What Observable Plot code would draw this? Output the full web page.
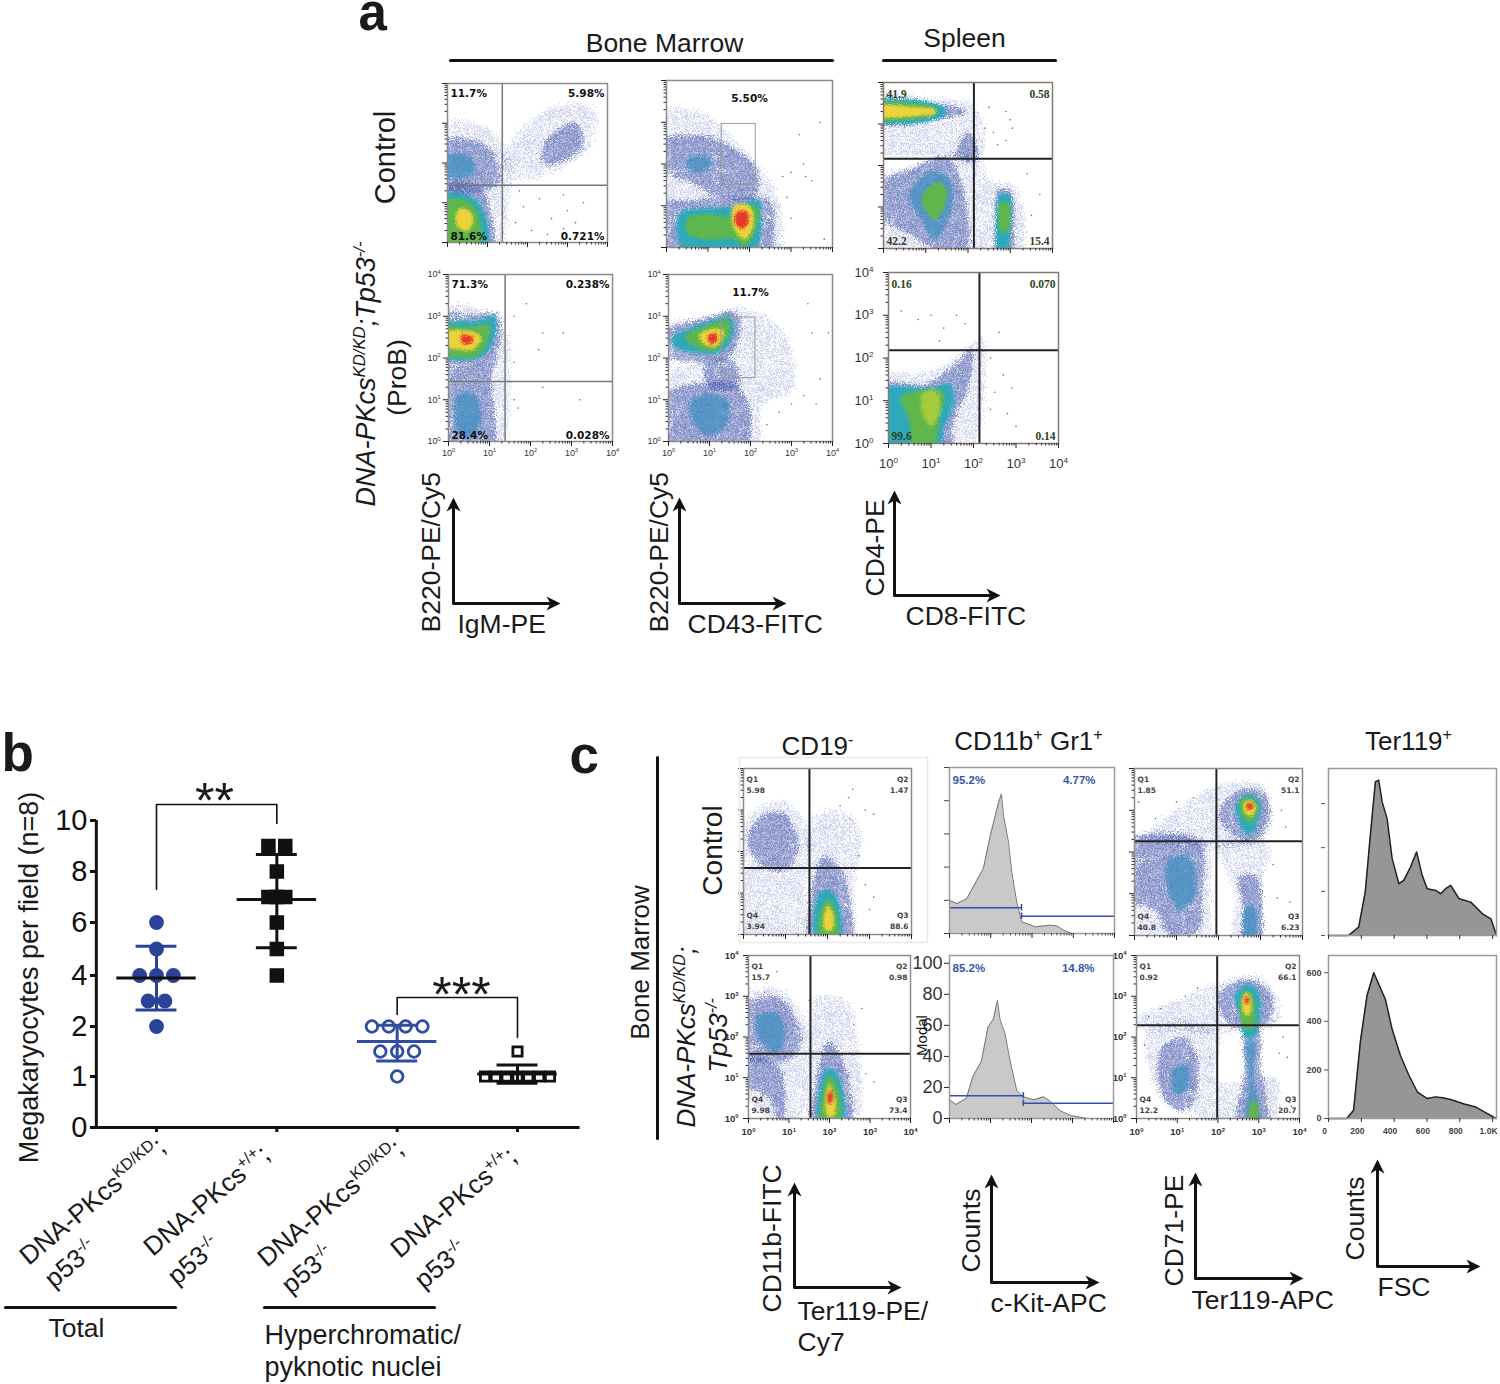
<!DOCTYPE html>
<html><head><meta charset="utf-8">
<style>html,body{margin:0;background:#fff}#page{position:relative;width:1500px;height:1384px;overflow:hidden;font-family:"Liberation Sans",Arial,sans-serif}</style>
<script src="https://cdn.jsdelivr.net/npm/d3@7"></script>
<script src="https://cdn.jsdelivr.net/npm/@observablehq/plot@0.6"></script>
</head><body><div id="page"></div>
<script>
// ---------- panel b values ----------
const bCategories = ["Total KD", "Total WT", "Hyperchromatic KD", "Hyperchromatic WT"];
const bYTicks = [0, 1, 2, 4, 6, 8, 10];
const totalKD = [[0,6],[0,5],[-.14,4],[0,4],[.14,4],[-.07,3],[.07,3],[0,2]];
const totalWT = [[-.07,9],[.07,9],[0,8],[-.07,7],[0,7],[.07,7],[0,6],[0,5],[0,4]];
const hyperKD = [[-.21,2],[-.07,2],[.07,2],[.21,2],[-.14,1.5],[0,1.5],[.14,1.5],[0,1]];
const hyperWT = [[-.27,1],[-.18,1],[-.09,1],[0,1],[.09,1],[.18,1],[.27,1],[0,1.5]];
const bMeans = [3.9, 6.9, 1.7, 1.05];
const bUpper = [5.1, 8.67, 2.05, 1.23];
const bLower = [2.65, 5.05, 1.31, 0.87];

// ---------- histogram values (log decades or FSC, percent or counts) ----------
const kitControl = [[0,20],[.18,18],[.42,21],[.66,32],[.82,39],[.99,59],[1.11,71],[1.19,79],[1.26,84],[1.31,71],[1.43,55],[1.51,37],[1.63,19],[1.75,7],[1.92,5.6],[2.08,4],[2.44,5],[2.6,4.6],[2.76,2],[2.97,0],[4,0]];
const kitMutant = [[0,12],[.16,9],[.41,13],[.57,27],[.78,37],[.94,59],[1.07,64],[1.17,76],[1.23,64],[1.35,55],[1.48,37],[1.64,18],[1.8,14],[2.05,12],[2.3,14],[2.46,11],[2.7,5],[2.95,2],[3.36,0],[4,0]];
const fscControl = [[0,0],[122,0],[184,5],[224,26],[255,60],[286,92],[306,93],[327,80],[357,70],[388,46],[429,31],[459,33],[500,41],[537,50],[571,36],[602,28],[653,27],[684,25],[714,28],[745,30],[796,22],[867,20],[939,13],[990,10],[1024,0]];
const fscMutant = [[0,0],[112,0],[153,34],[194,315],[235,507],[276,600],[306,553],[347,490],[388,367],[439,258],[490,178],[541,110],[602,82],[653,89],[694,85],[745,78],[827,60],[898,47],[969,20],[1020,0]];

// ---------- density outlines, in log10 decades ----------
const igmControl = [
 ["s",[[0,2.9],[.7,3],[1.3,2.6],[1.6,1.8],[1.5,.8],[1.3,0],[0,0]]],
 ["s",[[1.4,2.2],[2,3],[3,3.5],[3.7,3.3],[3.6,2.5],[2.9,1.9],[2,1.6],[1.5,1.7]]],
 ["d",[[0,2.5],[.6,2.6],[1.2,2.2],[1.3,1.5],[.9,1.3],[0,1.3]]],
 ["d",[[0,1.4],[.8,1.4],[1.1,.7],[1.1,0],[0,0]]],
 ["d",[[2.4,2.5],[3.2,3],[3.4,2.5],[3,2.1],[2.4,2]]],
 ["m",[[0,2.1],[.5,2.2],[.7,1.8],[.3,1.6],[0,1.7]]],
 ["t",[[0,1.15],[.6,1.15],[.95,.7],[.95,0],[0,0]]],
 ["g",[[0,1],[.5,1.05],[.8,.6],[.75,0],[0,0]]],
 ["y",[[.3,.85],[.55,.8],[.65,.55],[.5,.3],[.3,.35],[.2,.6]]]];
const cd43Control = [
 ["s",[[0,3.2],[.9,3.2],[1.6,2.6],[2.5,1.6],[2.8,.5],[2.6,0],[0,0]]],
 ["d",[[0,2.5],[.8,2.7],[1.6,2.4],[2.2,1.8],[2.1,1.2],[1.3,1.2],[.5,1.6],[0,1.9]]],
 ["d",[[0,1],[.7,1.15],[1.6,1.2],[2.5,1.1],[2.6,.4],[2.4,0],[0,0]]],
 ["t",[[.3,.8],[1,.95],[1.7,1],[2.2,1.15],[2.3,.6],[2,0],[.5,0]]],
 ["m",[[.5,2.1],[.9,2.2],[1.1,2],[.8,1.8],[.5,1.9]]],
 ["g",[[.5,.7],[1,.8],[1.6,.75],[1.8,1],[2.2,.95],[2.15,.4],[1.9,.05],[1.6,.2],[.9,.2],[.5,.35]]],
 ["y",[[1.6,.98],[2,1],[2.1,.6],[1.9,.2],[1.65,.4]]],
 ["r",[[1.7,.85],[1.95,.85],[1.95,.55],[1.8,.45],[1.65,.6]]]];
const cd8Control = [
 ["s",[[0,3.7],[1,3.6],[2.2,3.4],[2.3,2.2],[1.5,2.2],[0,2.4]]],
 ["s",[[0,1.6],[.7,2],[1.7,2.3],[2.2,2.2],[2.6,1.6],[3.1,1.5],[3.2,0],[.5,0],[0,.5]]],
 ["d",[[0,3.55],[1.2,3.5],[2,3.3],[1.5,3.15],[0,3]]],
 ["d",[[1.7,2.2],[2,2.8],[2.2,2.5],[2.2,2.1]]],
 ["d",[[0,1.5],[.6,1.9],[1.5,2.2],[1.9,1.4],[1.9,0],[.7,.3],[0,.9]]],
 ["d",[[2.7,1.4],[3,1.4],[3.1,.6],[3,0],[2.7,0],[2.65,.7]]],
 ["t",[[0,3.52],[1.3,3.48],[1.5,3.3],[1.3,3.12],[0,3.08]]],
 ["m",[[.6,1.3],[1.2,1.9],[1.6,1.6],[1.6,.9],[1.2,.2],[.9,.7]]],
 ["t",[[2.75,1.3],[2.98,1.3],[3,.4],[2.9,0],[2.75,0]]],
 ["g",[[0,3.45],[1.1,3.44],[1.3,3.3],[1.1,3.18],[0,3.15]]],
 ["g",[[.9,1.2],[1.3,1.6],[1.5,1.4],[1.4,.9],[1.2,.7]]],
 ["g",[[2.77,1.1],[2.95,1.1],[2.95,.4],[2.78,.4]]],
 ["y",[[0,3.4],[.9,3.4],[1.22,3.36],[1.22,3.24],[.9,3.2],[0,3.2]]]];
const igmMutant = [
 ["s",[[0,3.15],[.8,3.15],[1.4,2.6],[1.5,1.6],[1.2,0],[0,0]]],
 ["d",[[0,3],[.6,3.05],[1.2,3.05],[1.25,2.3],[1.05,1.6],[1.05,0],[0,0]]],
 ["t",[[0,2.8],[.7,2.9],[1.15,3],[1,2.2],[.6,1.95],[0,2.1]]],
 ["m",[[.2,1.1],[.6,1.15],[.8,.6],[.6,.1],[.25,.2]]],
 ["g",[[0,2.7],[.6,2.75],[1,2.8],[.85,2.2],[.5,2],[0,2.2]]],
 ["y",[[0,2.58],[.5,2.65],[.8,2.5],[.6,2.2],[.3,2.2],[0,2.35]]],
 ["r",[[.3,2.55],[.6,2.5],[.55,2.35],[.35,2.35]]]];
const cd43Mutant = [
 ["s",[[0,2.7],[1,3],[1.7,3.2],[2.5,2.9],[3,2.2],[3,1.2],[2.3,.9],[2.1,0],[0,0],[0,1.6],[.7,1.9]]],
 ["d",[[0,2.55],[.9,2.95],[1.65,3.1],[1.75,2.6],[1.45,2],[1,1.9],[0,2.1]]],
 ["d",[[.9,1.9],[1.6,1.9],[1.7,1.3],[1,1.3]]],
 ["d",[[0,1],[.8,1.4],[1.6,1.4],[2,.7],[1.8,0],[0,0]]],
 ["t",[[.1,2.5],[.9,2.85],[1.5,3],[1.6,2.6],[1.3,2.15],[.8,2.1],[.1,2.3]]],
 ["m",[[.5,.9],[1,1.15],[1.5,.9],[1.3,.25],[.8,.2]]],
 ["g",[[.4,2.5],[1,2.8],[1.45,2.9],[1.5,2.6],[1.2,2.2],[.8,2.2]]],
 ["y",[[.75,2.55],[1.1,2.7],[1.35,2.65],[1.2,2.3],[.9,2.3]]],
 ["r",[[.95,2.5],[1.15,2.6],[1.2,2.45],[1.05,2.33]]]];
const cd8Mutant = [
 ["s",[[0,1.5],[1,1.7],[1.7,2.1],[2.2,2.5],[2.3,1.6],[1.8,0],[0,0]]],
 ["d",[[0,1.35],[.9,1.4],[1.5,1.8],[1.95,2.2],[1.9,1.4],[1.5,.4],[1.5,0],[0,0]]],
 ["t",[[0,1.25],[1,1.3],[1.45,1.4],[1.55,1],[1.3,.3],[1.2,0],[.4,0],[0,.1]]],
 ["g",[[.3,1.1],[1.05,1.25],[1.3,1.2],[1.2,.6],[1,0],[.6,0],[.5,.5]]],
 ["l",[[.8,1.2],[1.15,1.2],[1.2,.7],[1,.4],[.8,.7]]]];
const ter119Control = [
 ["s",[[0,2.4],[.5,3.1],[1,3.2],[1.5,2.6],[1.5,1.2],[1.3,0],[0,0]]],
 ["s",[[1.6,2.8],[2.5,2.9],[2.8,2.3],[2.6,1],[2.6,0],[1.55,0],[1.6,1]]],
 ["d",[[.1,2.3],[.5,2.9],[1,2.9],[1.3,2.2],[1.1,1.6],[.5,1.6]]],
 ["d",[[1.6,1],[1.7,1.4],[1.9,1.9],[2.3,1.6],[2.55,.8],[2.5,0],[1.6,0]]],
 ["t",[[1.7,.7],[1.85,1.05],[2.1,1.05],[2.3,.7],[2.25,0],[1.75,0]]],
 ["g",[[1.8,.4],[2,.85],[2.2,.55],[2.2,0],[1.85,0]]],
 ["y",[[1.9,.3],[2,.7],[2.15,.45],[2.1,.1],[1.95,.1]]]];
const ter119Mutant = [
 ["s",[[0,.9],[0,2.9],[.7,3.2],[1.3,2.6],[1.6,1.7],[1.5,.6],[1,0]]],
 ["s",[[1.6,2.9],[2.4,2.9],[2.7,1.8],[2.6,0],[1.55,0],[1.6,1.5]]],
 ["d",[[0,2.7],[.7,3],[1.2,2.4],[1.3,1.8],[.9,1.4],[0,1.6]]],
 ["d",[[0,1.5],[.7,1.3],[.9,.8],[.8,0],[.5,.5],[0,.9]]],
 ["d",[[1.7,1.1],[1.95,1.9],[2.2,1.7],[2.55,.6],[2.45,0],[1.6,0],[1.6,.6]]],
 ["m",[[.2,2.5],[.7,2.6],[.9,2.1],[.7,1.6],[.3,1.9]]],
 ["t",[[1.75,.75],[1.9,1.2],[2.1,1.2],[2.35,.7],[2.3,0],[1.75,0]]],
 ["g",[[1.8,.5],[2,1.05],[2.25,.6],[2.2,0],[1.85,0]]],
 ["y",[[1.9,.4],[2,.85],[2.15,.4],[2.1,.05],[1.95,.05]]],
 ["r",[[1.95,.55],[2.05,.7],[2.08,.45],[1.98,.35]]]];
const cd71Control = [
 ["s",[[.2,2.3],[1,3],[2,3.6],[3,3.6],[3.3,2.9],[3,2.25]]],
 ["s",[[0,2.25],[1.7,2.3],[1.8,1.2],[1.65,0],[.7,0],[0,.6]]],
 ["s",[[2,2.2],[3.2,2.2],[3,1.2],[3,0],[2.4,0],[2.4,1]]],
 ["d",[[2,2.9],[2.5,3.5],[3.1,3.4],[3.2,2.8],[2.9,2.3],[2.5,2.3]]],
 ["d",[[0,2.2],[1.55,2.25],[1.6,1],[1.5,.1],[.8,.05],[.5,.6],[0,.9]]],
 ["d",[[2.5,1.4],[2.9,1.4],[3.05,.4],[2.95,0],[2.55,0],[2.6,.6]]],
 ["t",[[2.4,3.1],[2.7,3.4],[3,3.2],[2.9,2.6],[2.7,2.4],[2.5,2.7]]],
 ["m",[[.8,1.8],[1.3,1.9],[1.45,1],[1.1,.6],[.8,1.1]]],
 ["m",[[2.65,.7],[2.85,.7],[2.85,0],[2.65,0]]],
 ["g",[[2.5,3.2],[2.75,3.3],[2.95,3.1],[2.8,2.7],[2.6,2.8]]],
 ["y",[[2.6,3.15],[2.75,3.25],[2.9,3.05],[2.75,2.85],[2.62,2.95]]],
 ["r",[[2.68,3.15],[2.8,3.17],[2.82,3.05],[2.7,3]]]];
const cd71Mutant = [
 ["s",[[0,2.3],[1,2.9],[2,3.3],[3,3.5],[3.5,2.8],[3.4,2.3]]],
 ["s",[[.3,2.2],[2,2.2],[2,.9],[3.4,1],[3.5,.3],[3.3,0],[1.4,.1],[.6,.5]]],
 ["d",[[2,3],[2.6,3.4],[3.2,3.2],[3.35,2.6],[3,2.2],[2.3,2.3]]],
 ["d",[[2.65,2.2],[3,2.2],[3.05,1.2],[3.2,.5],[3.2,0],[2.5,0],[2.65,1.2]]],
 ["d",[[.6,1.7],[1.2,2],[1.5,1.4],[1.4,.4],[1,.2],[.6,.7]]],
 ["m",[[.9,1.2],[1.25,1.3],[1.25,.7],[.95,.6]]],
 ["t",[[2.4,3],[2.7,3.3],[3,3.1],[2.9,2],[2.65,2],[2.55,2.5]]],
 ["m",[[2.7,1.9],[2.9,1.9],[2.88,.9],[3,.5],[3,0],[2.7,0],[2.75,.9]]],
 ["g",[[2.55,2.95],[2.7,3.15],[2.88,2.95],[2.85,2.2],[2.65,2.2]]],
 ["g",[[2.8,.4],[2.95,.4],[2.95,0],[2.8,0]]],
 ["y",[[2.6,2.95],[2.7,3.1],[2.8,2.95],[2.78,2.55],[2.65,2.55]]],
 ["r",[[2.65,2.95],[2.72,3],[2.77,2.9],[2.7,2.8]]]];

// ---------- isolated events ----------
const igmControlOut = [[1.9,.9],[2.3,1.1],[2.6,.6],[2.9,1.2],[3.2,.5],[3.4,1],[1.7,.5],[2.1,.3],[2.5,.2],[3.0,.8],[1.8,1.3],[2.9,.35]];
const cd43ControlOut = [[3,1.8],[3.3,2],[3.5,1.6],[3.8,.2],[3.7,3],[3.2,2.7],[2.9,1.2],[3,.7],[2.8,1.7],[3.35,1.7]];
const cd8ControlOut = [[2.5,3.4],[2.9,3.3],[3,3.1],[2.6,2.8],[2.7,2.5],[2.4,2.9],[3.05,2.9],[2.9,2.6],[3.4,1.8],[3.5,.8],[3.7,1.3]];
const igmMutantOut = [[1.6,3],[1.9,3.3],[2.3,2.6],[2.8,2.6],[2.2,2.2],[1.6,1.9],[2.3,1.3],[1.6,1],[3.2,1],[1.7,.8]];
const cd43MutantOut = [[3.4,3.3],[3.5,2.6],[3.7,1.5],[3.3,1.1],[3.6,.9],[2.7,.7],[3,.9],[2.4,.4],[3.9,2.6]];
const cd8MutantOut = [[.3,3.1],[.7,2.9],[1,3],[1.3,2.7],[1.6,3],[1.8,2.8],[1.2,2.4],[2.4,2],[2.7,1.6],[2.5,1.2],[2.9,1.3],[2.8,.7],[3,.4],[2.4,.8],[2.6,2.6]];
const ter119ControlOut = [[2.5,3.3],[2.6,3.5],[2.9,3],[3.1,2.9],[2.3,3.1],[3.1,.9],[3,.6],[2.75,1.9],[2.9,1.2]];
const ter119MutantOut = [[.7,3.6],[1.5,2.9],[2.8,2.7],[2.6,2.3],[3.1,.9],[2.9,1.1],[2.8,1.6],[.4,3.1]];
const cd71ControlOut = [[.3,1.8],[.5,2.8],[1,3.2],[1.4,3.3],[3.5,3],[3.6,2.6],[3.3,1.7],[3.4,.9],[3.7,.8],[.1,3.2]];
const cd71MutantOut = [[.3,2.5],[.6,2.7],[1.2,3],[1.5,3.2],[.2,1.8],[3.6,2],[3.7,1.5],[3.8,.3],[3.5,1.6],[1.8,1.5]];

// ---------- texts ----------
const pctLabels = {
 igmControl:["11.7%","5.98%","81.6%","0.721%"], igmMutant:["71.3%","0.238%","28.4%","0.028%"],
 cd8Control:["41.9","0.58","42.2","15.4"], cd8Mutant:["0.16","0.070","99.6","0.14"],
 ter119Control:["Q1\n5.98","Q2\n1.47","Q4\n3.94","Q3\n88.6"], ter119Mutant:["Q1\n15.7","Q2\n0.98","Q4\n9.98","Q3\n73.4"],
 cd71Control:["Q1\n1.85","Q2\n51.1","Q4\n40.8","Q3\n6.23"], cd71Mutant:["Q1\n0.92","Q2\n66.1","Q4\n12.2","Q3\n20.7"]};
const decadeTicks = [0,1,2,3,4];
const percentTicks = [0,20,40,60,80,100];
const fscTicks = [0,200,400,600,800,1000];
const fscCountTicks = [0,200,400,600];

// ---------- layout and styling ----------
const SANS = '"Liberation Sans",Arial,sans-serif';
const page = document.getElementById("page");
const none = () => "";
const minorTicks = d3.range(0,4).flatMap(d => d3.range(2,10).map(k => d + Math.log10(k)));
// speckle texture and grainy edges for the flow plots (a fill style, not data)
const defs = document.createElementNS("http://www.w3.org/2000/svg","svg");
defs.setAttribute("width",0);defs.setAttribute("height",0);defs.style.position="absolute";
function tile(id,n,color,size){
  let s=`<pattern id="${id}" patternUnits="userSpaceOnUse" width="47" height="47">`;
  for(let i=0;i<n;i++) s+=`<rect x="${((i*0.7549)%1*47).toFixed(1)}" y="${((i*0.5698)%1*47).toFixed(1)}" width="${size}" height="${size}" fill="${color}"/>`;
  defs.innerHTML+=s+"</pattern>";
}
function grain(id,scale,blur){
  defs.innerHTML+=`<filter id="${id}" x="-25%" y="-25%" width="150%" height="150%" color-interpolation-filters="sRGB">
   <feGaussianBlur in="SourceGraphic" stdDeviation="${blur}" result="b"/>
   <feTurbulence type="fractalNoise" baseFrequency="0.85" numOctaves="2" seed="4" result="n"/>
   <feDisplacementMap in="b" in2="n" scale="${scale}" xChannelSelector="R" yChannelSelector="G"/></filter>`;
}
tile("spS",300,"#4658b4",1); tile("spD",820,"#2f43a0",1.1);
grain("gS",16,0); grain("gD",14,0); grain("gC",11,.9); grain("gH",7,.8);
page.appendChild(defs);
const levelFill = {s:"url(#spS)",d:"url(#spD)",m:"#3f8fc0",t:"#2ea9bc",g:"#5fb74c",l:"#a6cb3e",y:"#ecd33a",r:"#e6382a"};
const levelFilter = {s:"url(#gS)",d:"url(#gD)",m:"url(#gC)",t:"url(#gC)",g:"url(#gC)",l:"url(#gC)",y:"url(#gH)",r:"url(#gH)"};
const levelOpacity = {m:.75};

function add(svg,left,top){
  svg.style.position="absolute"; svg.style.left=left+"px"; svg.style.top=top+"px";
  svg.style.overflow="visible"; svg.style.maxWidth="none"; svg.style.background="transparent"; svg.style.fontFamily=SANS;
  page.appendChild(svg);
}
function cloudMarks(layers,out){
  const ext = ([x,y]) => [x<=0?-.3:x, y<=0?-.3:y];
  return [
    ...layers.map(([lvl,pts]) => Plot.line(pts.map(ext),{x:d=>d[0],y:d=>d[1],fill:levelFill[lvl],fillOpacity:levelOpacity[lvl]||1,stroke:"none",curve:"catmull-rom-closed",clip:"frame",imageFilter:levelFilter[lvl]})),
    Plot.dot(out,{x:d=>d[0],y:d=>d[1],r:.8,fill:"#5a69bd",stroke:"none"})
  ];
}
function decadeAxes(p){
  const lab = p.tick, fmt=d=>`10^{${d}}`;
  return [
    Plot.axisX({ticks:minorTicks,tickSize:2.5,tickFormat:none,stroke:"#333",label:null}),
    Plot.axisY({ticks:minorTicks,tickSize:2.5,tickFormat:none,stroke:"#333",label:null}),
    Plot.axisX({ticks:decadeTicks,tickSize:5,tickFormat:lab?fmt:none,stroke:"#222",fill:"#333",label:null,...(lab||{})}),
    Plot.axisY({ticks:decadeTicks,tickSize:5,tickFormat:lab?fmt:none,stroke:"#222",fill:"#333",label:null,...(lab||{})})];
}
function flowPanel(p){
  const [x0,x1,y0,y1]=p.box, L=45,R=14,T=4,B=34;
  const lab=p.labels||[], st=p.labelStyle||{};
  const corner=[["top-left",st.dx,st.dy],["top-right",-st.dx,st.dy],["bottom-left",st.dx,-st.dy],["bottom-right",-st.dx,-st.dy]];
  add(Plot.plot({width:x1-x0+L+R,height:y1-y0+T+B,marginLeft:L,marginRight:R,marginTop:T,marginBottom:B,
    x:{domain:[0,4]},y:{domain:[0,4]},
    marks:[
      ...cloudMarks(p.layers,p.out),
      ...(p.box2?[Plot.rect([p.box2],{x1:d=>d[0],x2:d=>d[1],y1:d=>d[2],y2:d=>d[3],fill:"none",stroke:"#999",strokeWidth:1})]:[]),
      ...(p.gate?[Plot.ruleX([p.gate[0]],{stroke:p.gateColor,strokeWidth:p.gateWidth}),Plot.ruleY([p.gate[1]],{stroke:p.gateColor,strokeWidth:p.gateWidth})]:[]),
      Plot.frame({stroke:p.frame||"#8a8a8a",strokeWidth:1.5}),
      ...decadeAxes(p),
      ...lab.map((t,i)=>Plot.text([t],{frameAnchor:corner[i][0],dx:corner[i][1],dy:corner[i][2],fontSize:st.size,fontWeight:"bold",fill:st.color,lineHeight:1.45,fontFamily:st.font})),
      ...(p.centerLabel?[Plot.text([p.centerLabel],{frameAnchor:"top",dy:p.centerDy,fontSize:st.size,fontWeight:"bold",fill:st.color,fontFamily:st.font})]:[])
    ]}),x0-L,y0-T);
}
const styA={size:10.5,dx:3,dy:3,color:"#111",font:'DejaVu Sans'};
const styS={size:11.5,dx:3,dy:4,color:"#2c4420",font:'Liberation Serif'};
const styC={size:7.5,dx:3,dy:6,color:"#444",font:'DejaVu Sans'};
const tickSmall={fontSize:9,tickPadding:3};
const tickBig={fontSize:13,tickPadding:10};
const tickC={fontSize:9.5,fontWeight:"bold",tickPadding:5};
const A="#777";
const flowPanels=[
 {box:[447,607,83,242],layers:igmControl,out:igmControlOut,gate:[1.37,1.44],gateColor:A,gateWidth:1.5,labels:pctLabels.igmControl,labelStyle:styA},
 {box:[666,832,80,247],layers:cd43Control,out:cd43ControlOut,box2:[1.33,2.15,1.5,2.96],centerLabel:"5.50%",centerDy:14,labelStyle:styA},
 {box:[883,1052,82,248],layers:cd8Control,out:cd8ControlOut,gate:[2.14,2.16],gateColor:"#222",gateWidth:2,labels:pctLabels.cd8Control,labelStyle:styS,frame:"#8a7474"},
 {box:[448,612,274,441],layers:igmMutant,out:igmMutantOut,gate:[1.38,1.44],gateColor:A,gateWidth:1.5,labels:pctLabels.igmMutant,labelStyle:styA,tick:tickSmall},
 {box:[668,832,274,441],layers:cd43Mutant,out:cd43MutantOut,box2:[1.29,2.12,1.52,2.97],centerLabel:"11.7%",centerDy:14,labelStyle:styA,tick:tickSmall},
 {box:[888,1058,272,443],layers:cd8Mutant,out:cd8MutantOut,gate:[2.14,2.18],gateColor:"#222",gateWidth:2,labels:pctLabels.cd8Mutant,labelStyle:styS,frame:"#8a7474",tick:tickBig},
 {box:[743,911,768,934],layers:ter119Control,out:ter119ControlOut,gate:[1.57,1.6],gateColor:"#222",gateWidth:2,labels:pctLabels.ter119Control,labelStyle:styC},
 {box:[748,910,955,1118],layers:ter119Mutant,out:ter119MutantOut,gate:[1.53,1.59],gateColor:"#222",gateWidth:2,labels:pctLabels.ter119Mutant,labelStyle:styC,tick:tickC},
 {box:[1134,1302,768,935],layers:cd71Control,out:cd71ControlOut,gate:[1.95,2.26],gateColor:"#222",gateWidth:2,labels:pctLabels.cd71Control,labelStyle:styC},
 {box:[1136,1299,955,1118],layers:cd71Mutant,out:cd71MutantOut,gate:[1.98,2.29],gateColor:"#222",gateWidth:2,labels:pctLabels.cd71Mutant,labelStyle:styC,tick:tickC}
];
flowPanels.forEach(flowPanel);

// histograms
function histPanel(h){
  const [x0,x1,y0,y1]=h.box,L=45,R=14,T=4,B=34;
  add(Plot.plot({width:x1-x0+L+R,height:y1-y0+T+B,marginLeft:L,marginRight:R,marginTop:T,marginBottom:B,
    x:{domain:h.xDomain},y:{domain:h.yDomain},
    marks:[
      Plot.areaY(h.data,{x:d=>d[0],y:d=>d[1],fill:h.fill}),
      Plot.lineY(h.data,{x:d=>d[0],y:d=>d[1],stroke:h.line,strokeWidth:h.lineW}),
      ...(h.gates||[]).flatMap(g=>[
        Plot.ruleY([g[2]],{x1:g[0],x2:g[1],stroke:"#3450a8",strokeWidth:1.6}),
        Plot.ruleX([h.gates[0][1]],{y1:g[2]-2,y2:g[2]+2,stroke:"#3450a8",strokeWidth:1.6})]),
      Plot.frame({stroke:"#9a9a9a",strokeWidth:1.5}),
      ...(h.axes||[]),
      ...(h.texts||[]).map(([t,fa,dx])=>Plot.text([t],{frameAnchor:fa,dx,dy:8,fontSize:11.5,fontWeight:"bold",fill:"#3a55a8"}))
    ]}),x0-L,y0-T);
}
const bigY=Plot.axisY({ticks:percentTicks,tickSize:5,fontSize:18,fill:"#333",stroke:"#222",tickPadding:2,tickFormat:d=>d,label:null});
const plainY=Plot.axisY({ticks:percentTicks,tickSize:5,tickFormat:none,stroke:"#444",label:null});
const xDec=()=>[Plot.axisX({ticks:minorTicks,tickSize:2.5,tickFormat:none,stroke:"#444",label:null}),Plot.axisX({ticks:decadeTicks,tickSize:5,tickFormat:none,stroke:"#222",label:null})];
const fscFmt=d=>d===1000?"1.0K":d;
[
 {box:[949,1114,767,933],data:kitControl,xDomain:[0,4],yDomain:[0,100],fill:"#c9c9c9",line:"#777",lineW:1,gates:[[0,1.745,15.5],[1.745,4,10.4]],axes:[plainY,...xDec()],texts:[["95.2%","top-left",3],["4.77%","top-right",-19]]},
 {box:[949,1113,955,1118],data:kitMutant,xDomain:[0,4],yDomain:[0,105],fill:"#c9c9c9",line:"#777",lineW:1,gates:[[0,1.8,14.7],[1.8,4,9.8]],axes:[bigY,...xDec()],texts:[["85.2%","top-left",3],["14.8%","top-right",-19]]},
 {box:[1328,1496,768,935],data:fscControl,xDomain:[0,1024],yDomain:[0,100],fill:"#969696",line:"#222",lineW:1.5,axes:[Plot.axisY({ticks:[0,26.4,52.6,79],tickSize:4,tickFormat:none,stroke:"#555",dx:-3,label:null}),Plot.axisX({ticks:fscTicks,tickSize:4,tickFormat:none,stroke:"#333",label:null})]},
 {box:[1328,1496,955,1118],data:fscMutant,xDomain:[0,1024],yDomain:[0,671],fill:"#969696",line:"#222",lineW:1.5,axes:[Plot.axisY({ticks:fscCountTicks,tickSize:4,fontSize:9,fontWeight:"bold",fill:"#444",stroke:"#555",tickPadding:3,label:null,tickFormat:d=>d}),Plot.axisX({ticks:fscTicks,tickSize:4,tickFormat:none,stroke:"#333",label:null}),Plot.axisX({ticks:fscTicks,tickSize:0,tickFormat:fscFmt,fontSize:8.5,fontWeight:"bold",fill:"#444",stroke:"none",tickPadding:9,dx:-4,label:null})]}
].forEach(histPanel);

// panel b
const bTop=770, py=v=>v-bTop;
const bGroups=bCategories.map((c,i)=>({pos:i,mean:bMeans[i],up:bUpper[i],lo:bLower[i],
   bar:i===1||i===3?"#111":(i===0?"#2b4299":"#2f4ea3"),mid:i===2?"#2f4ea3":"#111"}));
const shift=(arr,i)=>arr.map(([dx,v])=>[i+dx,v]);
add(Plot.plot({width:600,height:370,marginLeft:96,marginRight:20,marginTop:py(820),marginBottom:13,
  x:{domain:[0,3],range:[156,517]},
  y:{type:"linear",domain:bYTicks,range:[1127,1076,1026,975,922,871,820].map(py)},
  color:{type:"identity"},
  marks:[
    Plot.ruleX([-.5],{y1:0,y2:10,strokeWidth:3,stroke:"#111"}),
    Plot.ruleY([0],{x1:-.5,x2:3.52,strokeWidth:3,stroke:"#111"}),
    Plot.axisY({ticks:bYTicks,tickSize:6,strokeWidth:3,stroke:"#111",fill:"#111",fontSize:29,tickPadding:3,tickFormat:d=>d,label:null}),
    Plot.axisX({ticks:[0,1,2,3],tickSize:5,strokeWidth:3,stroke:"#111",tickFormat:none,label:null}),
    Plot.dot(shift(totalKD,0),{x:d=>d[0],y:d=>d[1],r:7.4,fill:"#2b4299",stroke:"none"}),
    Plot.dot(shift(totalWT,1),{x:d=>d[0],y:d=>d[1],r:8.2,symbol:"square",fill:"#111",stroke:"none"}),
    Plot.dot(shift(hyperKD,2),{x:d=>d[0],y:d=>d[1],r:5.8,fill:"none",stroke:"#2f4ea3",strokeWidth:2.8}),
    Plot.dot(shift(hyperWT,3),{x:d=>d[0],y:d=>d[1],r:5.2,symbol:"square",fill:"none",stroke:"#111",strokeWidth:2.8}),
    Plot.ruleX(bGroups,{x:"pos",y1:"lo",y2:"up",stroke:"bar",strokeWidth:3}),
    Plot.ruleY(bGroups,{y:"up",x1:d=>d.pos-.17,x2:d=>d.pos+.17,stroke:"bar",strokeWidth:3}),
    Plot.ruleY(bGroups,{y:"lo",x1:d=>d.pos-.17,x2:d=>d.pos+.17,stroke:"bar",strokeWidth:3}),
    Plot.ruleY(bGroups,{y:"mean",x1:d=>d.pos-.33,x2:d=>d.pos+.33,stroke:"mid",strokeWidth:3}),
    Plot.line([[0,7.3],[0,10.63],[1,10.63],[1,9.88]],{x:d=>d[0],y:d=>d[1],stroke:"#111",strokeWidth:1.6}),
    Plot.line([[2,2.47],[2,3.14],[3,3.14],[3,1.78]],{x:d=>d[0],y:d=>d[1],stroke:"#111",strokeWidth:1.6})
  ]}),0,bTop);

// page-level text, rules and axis arrows (pixel layout)
const T=(text,x,y,size,o={})=>({text,x,y,size,rotate:o.r||0,anchor:o.a||"start",italic:o.i,bold:o.b});
const pageTexts=[
 T("a",358,13,51,{b:1}),T("b",1,754,53,{b:1}),T("c",569,756,53,{b:1}),
 T("Bone Marrow",664,43,26.5,{a:"middle"}),T("Spleen",964,38,26.5,{a:"middle"}),
 T("Control",385,157,29,{a:"middle",r:-90}),
 T("DNA-PKcs^{KD/KD};Tp53^{-/-}",366,506,27,{r:-90,i:1}),T("(ProB)",397,377,26.5,{a:"middle",r:-90}),
 T("B220-PE/Cy5",431,632,26.5,{r:-90}),T("IgM-PE",457,624,26.5),
 T("B220-PE/Cy5",659,632,26.5,{r:-90}),T("CD43-FITC",687,624,26.5),
 T("CD4-PE",875,596,26.5,{r:-90}),T("CD8-FITC",905,616,26.5),
 T("CD19^{-}",817,746,26,{a:"middle"}),T("CD11b^{+} Gr1^{+}",1028,741,26,{a:"middle"}),T("Ter119^{+}",1408,741,26,{a:"middle"}),
 T("Bone Marrow",640,962,26,{a:"middle",r:-90}),T("Control",713,850,28,{a:"middle",r:-90}),
 T("DNA-PKcs^{KD/KD};",686,1127,26,{r:-90,i:1}),T("Tp53^{-/-}",718,1072,26,{r:-90,i:1}),
 T("Modal",922,1035,15,{a:"middle",r:-90}),
 T("CD11b-FITC",772,1312,26.5,{r:-90}),T("Ter119-PE/",797,1311,26.5),T("Cy7",797,1342,26.5),
 T("Counts",971,1272,26.5,{r:-90}),T("c-Kit-APC",990,1303,26.5),
 T("CD71-PE",1174,1286,26.5,{r:-90}),T("Ter119-APC",1191,1300,26.5),
 T("Counts",1355,1260,26.5,{r:-90}),T("FSC",1377,1287,26.5),
 T("Megakaryocytes per field (n=8)",29,977,27,{a:"middle",r:-90}),
 T("**",214,801,50,{a:"middle"}),T("***",461,995,50,{a:"middle"}),
 T("DNA-PKcs^{KD/KD};",23,1259,26,{r:-40}),T("p53^{-/-}",48,1282,26,{r:-40}),
 T("DNA-PKcs^{+/+};",147,1250,26,{r:-40}),T("p53^{-/-}",171,1279,26,{r:-40}),
 T("DNA-PKcs^{KD/KD};",261,1261,26,{r:-40}),T("p53^{-/-}",285,1288,26,{r:-40}),
 T("DNA-PKcs^{+/+};",394,1252,26,{r:-40}),T("p53^{-/-}",418,1283,26,{r:-40}),
 T("Total",48,1328,26.5),T("Hyperchromatic/",264,1335,27),T("pyknotic nuclei",264,1367,27)
];
const pageRules=[[450,832,60],[883,1055,60],[5,175,1307],[264,434,1307]];
const pageArrows=[[453,603,497,560],[679,603,497,786],[894,595,490,1000],[794,1287,1182,901],[991,1282,1174,1099],[1195,1278,1172,1303],[1377,1266,1159,1480]];
const head=(x,y,dir)=>dir==="up"?[[x,y],[x-7,y+14],[x,y+10],[x+7,y+14]]:[[x,y],[x-14,y-7],[x-10,y],[x-14,y+7]];
const xyLine=(pts,o)=>Plot.line(pts,{x:d=>d[0],y:d=>d[1],...o});
add(Plot.plot({width:1500,height:1384,margin:0,x:{type:"identity",axis:null},y:{type:"identity",axis:null},
  marks:[
   xyLine([[739,757],[927,757]],{stroke:"#e9e9e9",strokeWidth:1.5}),
   xyLine([[739,757],[739,942],[927,942],[927,757]],{stroke:"#e9e9e9",strokeWidth:1.5}),
   xyLine([[657,757],[657,1138]],{stroke:"#111",strokeWidth:3}),
   ...pageRules.map(([a,b,y])=>xyLine([[a,y],[b,y]],{stroke:"#111",strokeWidth:3.2})),
   ...pageArrows.flatMap(([x,y,yt,xt])=>[
     xyLine([[x,yt+8],[x,y],[xt-8,y]],{stroke:"#111",strokeWidth:3}),
     xyLine(head(x,yt,"up"),{fill:"#111",stroke:"none",curve:"linear-closed"}),
     xyLine(head(xt,y,"right"),{fill:"#111",stroke:"none",curve:"linear-closed"})]),
   ...pageTexts.map(t=>Plot.text([t],{x:"x",y:"y",text:"text",rotate:t.rotate,fontSize:t.size,textAnchor:t.anchor,
      fontStyle:t.italic?"italic":"normal",fontWeight:t.bold?"bold":"normal",fill:"#1a1a1a",lineAnchor:"middle"}))
  ]}),0,0);

// turn ^{..} into superscript tspans
page.querySelectorAll("text").forEach(el=>{
  const s=el.textContent; if(!s.includes("^{")) return;
  const fs=parseFloat(getComputedStyle(el).fontSize), parts=s.split(/\^\{(.*?)\}/);
  while(el.firstChild) el.removeChild(el.firstChild);
  let pending=0;
  parts.forEach((p,i)=>{ if(!p) return;
    const ts=document.createElementNS("http://www.w3.org/2000/svg","tspan"); ts.textContent=p;
    if(i%2){ts.setAttribute("font-size",fs*.62);ts.setAttribute("dy",-fs*.38+pending);pending=fs*.38;}
    else if(pending){ts.setAttribute("dy",pending);pending=0;}
    el.appendChild(ts);
  });
});
</script></body></html>
